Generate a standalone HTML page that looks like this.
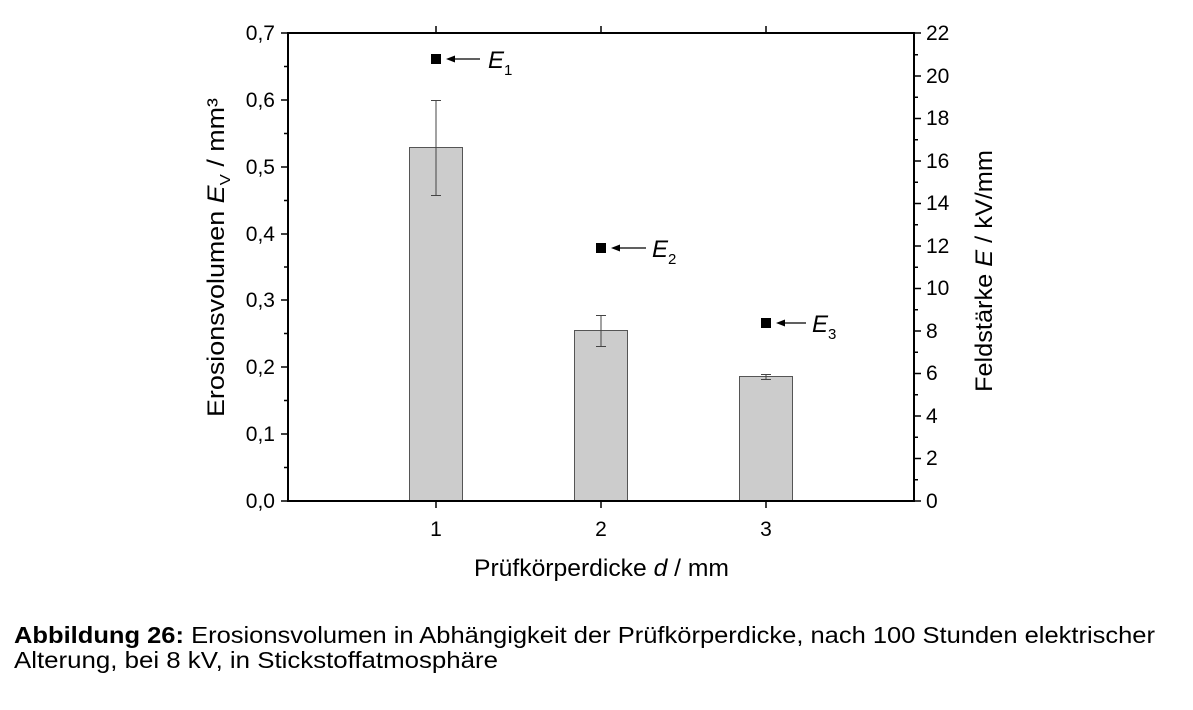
<!DOCTYPE html><html><head><style>body{margin:0;background:#fff}svg{display:block}text{font-family:"Liberation Sans",Arial,sans-serif;fill:#000}</style></head><body>
<svg width="1193" height="710" xmlns="http://www.w3.org/2000/svg">
<g stroke="#555" stroke-width="1" fill="#ccc">
<rect x="409.5" y="147.5" width="53" height="353.5"/>
<rect x="574.5" y="330.5" width="53" height="170.5"/>
<rect x="739.5" y="376.5" width="53" height="124.5"/>
</g>
<g stroke="#444" stroke-width="1">
<line x1="436" y1="100" x2="436" y2="195"/><line x1="431" y1="100.5" x2="441" y2="100.5"/><line x1="431" y1="195.5" x2="441" y2="195.5"/>
<line x1="601" y1="315" x2="601" y2="346"/><line x1="596" y1="315.5" x2="606" y2="315.5"/><line x1="596" y1="346.5" x2="606" y2="346.5"/>
<line x1="766" y1="374" x2="766" y2="379"/><line x1="761" y1="374.5" x2="771" y2="374.5"/><line x1="761" y1="379.5" x2="771" y2="379.5"/>
</g>
<g stroke="#000" stroke-width="2" fill="none">
<rect x="288" y="33" width="626" height="468"/>
</g>
<g stroke="#000" stroke-width="1.5">
<path d="M281 501H288M281 434H288M281 367H288M281 300H288M281 234H288M281 167H288M281 100H288M281 33H288"/>
<path d="M284 467.5H288M284 400.5H288M284 333.5H288M284 267H288M284 200.5H288M284 133.5H288M284 66.5H288"/>
<path d="M914 501H921M914 458.5H921M914 416H921M914 373.5H921M914 331H921M914 288.5H921M914 246H921M914 203.5H921M914 161H921M914 118.5H921M914 76H921M914 33H921"/>
<path d="M914 479.7H918M914 437.2H918M914 394.7H918M914 352.2H918M914 309.7H918M914 267.2H918M914 224.7H918M914 182.2H918M914 139.7H918M914 97.2H918M914 54.7H918"/>
<path d="M436 501V508M601 501V508M766 501V508M436 33V26M601 33V26M766 33V26"/>
</g>
<g font-size="21" text-anchor="end">
<text x="275" y="508">0,0</text><text x="275" y="441">0,1</text><text x="275" y="374">0,2</text><text x="275" y="307">0,3</text><text x="275" y="241">0,4</text><text x="275" y="174">0,5</text><text x="275" y="107">0,6</text><text x="275" y="40">0,7</text>
</g>
<g font-size="21">
<text x="926" y="508">0</text><text x="926" y="465">2</text><text x="926" y="423">4</text><text x="926" y="380">6</text><text x="926" y="338">8</text><text x="926" y="295">10</text><text x="926" y="253">12</text><text x="926" y="210">14</text><text x="926" y="168">16</text><text x="926" y="125">18</text><text x="926" y="83">20</text><text x="926" y="40">22</text>
</g>
<g font-size="21" text-anchor="middle">
<text x="436" y="536">1</text><text x="601" y="536">2</text><text x="766" y="536">3</text>
</g>
<text x="474" y="576" font-size="24" textLength="255" lengthAdjust="spacingAndGlyphs">Prüfkörperdicke <tspan font-style="italic">d</tspan> / mm</text>
<text transform="translate(224,417) rotate(-90)" font-size="24" textLength="319" lengthAdjust="spacingAndGlyphs">Erosionsvolumen <tspan font-style="italic">E</tspan><tspan font-size="15" dy="6">V</tspan><tspan dy="-6"> / mm³</tspan></text>
<text transform="translate(992,392) rotate(-90)" font-size="24" textLength="242" lengthAdjust="spacingAndGlyphs">Feldstärke <tspan font-style="italic">E</tspan> / kV/mm</text>
<g fill="#000">
<rect x="431" y="54" width="10" height="10"/><rect x="596" y="243" width="10" height="10"/><rect x="761" y="318" width="10" height="10"/>
</g>
<g stroke="#000" stroke-width="1.3">
<path d="M452 59H480M616 248H646M781 323H806"/>
</g>
<g fill="#000"><path d="M446 59l9 -3.5v7z"/><path d="M611 248l9 -3.5v7z"/><path d="M776 323l9 -3.5v7z"/></g>
<g font-size="24" font-style="italic">
<text x="488" y="68">E<tspan font-size="15" dy="7" font-style="normal">1</tspan></text>
<text x="652" y="257">E<tspan font-size="15" dy="7" font-style="normal">2</tspan></text>
<text x="812" y="332">E<tspan font-size="15" dy="7" font-style="normal">3</tspan></text>
</g>
<text x="14" y="643" font-size="23" textLength="1141" lengthAdjust="spacingAndGlyphs"><tspan font-weight="bold">Abbildung 26:</tspan> Erosionsvolumen in Abhängigkeit der Prüfkörperdicke, nach 100 Stunden elektrischer</text>
<text x="14" y="668" font-size="23" textLength="484" lengthAdjust="spacingAndGlyphs">Alterung, bei 8 kV, in Stickstoffatmosphäre</text>
</svg>
</body></html>
